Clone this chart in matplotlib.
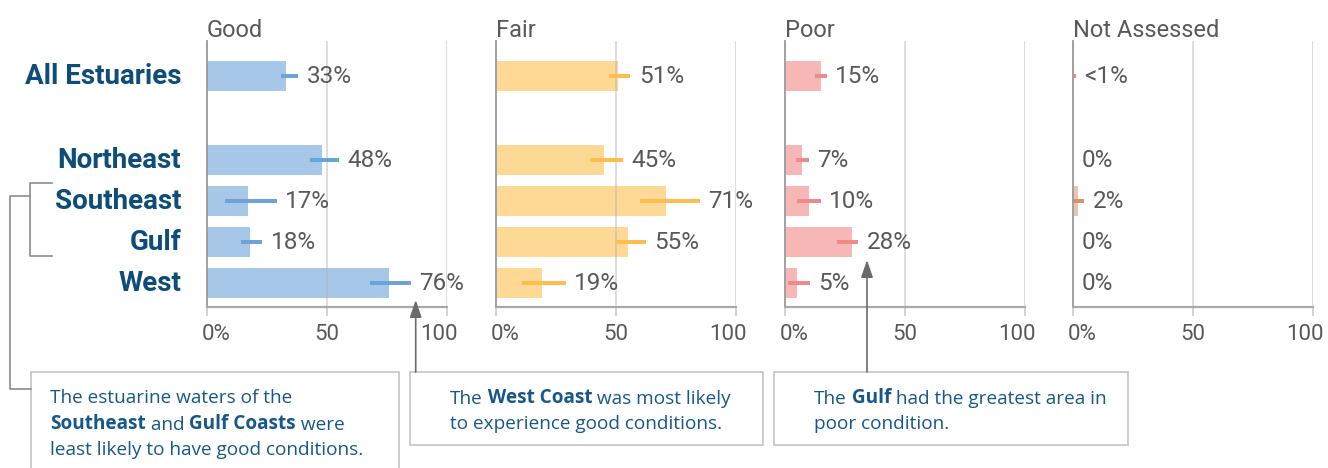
import matplotlib
matplotlib.use("Agg")
import matplotlib.pyplot as plt
from matplotlib import font_manager
from matplotlib.patches import Rectangle, FancyArrowPatch

# --- data -------------------------------------------------------------
regions = ["All Estuaries", "Northeast", "Southeast", "Gulf", "West"]
panels = ["Good", "Fair", "Poor", "Not Assessed"]

good = [33, 48, 17, 18, 76]
good_lo = [31, 43, 7.5, 14, 68]
good_hi = [38, 55, 29, 23, 85]
good_lbl = ["33%", "48%", "17%", "18%", "76%"]

fair = [51, 45, 71, 55, 19]
fair_lo = [47, 39, 60, 50, 11]
fair_hi = [56, 53, 85, 62.5, 29]
fair_lbl = ["51%", "45%", "71%", "55%", "19%"]

poor = [15, 7, 10, 28, 5]
poor_lo = [12.3, 4.5, 4.8, 21.5, 1.2]
poor_hi = [17.4, 10, 14.9, 30.6, 10.3]
poor_lbl = ["15%", "7%", "10%", "28%", "5%"]

na = [0.6, 0, 2, 0, 0]
na_lo = [0, 0, 0.4, 0, 0]
na_hi = [1.3, 0, 4.7, 0, 0]
na_lbl = ["<1%", "0%", "2%", "0%", "0%"]

xticks = [0, 50, 100]
xtick_lbl = ["0%", "50", "100"]

# --- style ------------------------------------------------------------
names = {f.name for f in font_manager.fontManager.ttflist}
narrow = "Liberation Sans Narrow" if "Liberation Sans Narrow" in names else "Roboto"
body = "Open Sans"

bar_colors = ["#a6c7e8", "#fdd995", "#f7b7b7", "#ebc4b1"]
err_colors = ["#6ea3d8", "#fbbe4f", "#f08a8a", "#d8926f"]
grey_txt = "#595959"
navy = "#0e4d7a"
box_txt = "#17578a"

W, H = 1328, 468
fig = plt.figure(figsize=(W / 100, H / 100), dpi=100)

ypos = [0, 2.05, 3.05, 4.05, 5.05]
ax_top, ax_bot = 41, 307
lefts = [207, 496, 785, 1073]

series = [
    (good, good_lo, good_hi, good_lbl),
    (fair, fair_lo, fair_hi, fair_lbl),
    (poor, poor_lo, poor_hi, poor_lbl),
    (na, na_lo, na_hi, na_lbl),
]

for i, (vals, lo, hi, lbl) in enumerate(series):
    ax = fig.add_axes([lefts[i] / W, 1 - ax_bot / H, 240 / W, (ax_bot - ax_top) / H])
    ax.set_xlim(0, 100)
    ax.set_ylim(5.634, -0.854)
    ax.barh(ypos, vals, height=0.75, color=bar_colors[i], zorder=1)
    for x in (50, 100):
        ax.axvline(x, color="#b0b0b0", alpha=0.45, lw=1.3, zorder=2)
    for y, a, b in zip(ypos, lo, hi):
        if b > a:
            ax.plot([a, b], [y, y], color=err_colors[i], lw=2.9,
                    solid_capstyle="butt", zorder=3)
    for y, v, b, s in zip(ypos, vals, hi, lbl):
        ax.annotate(s, (max(v, b), y), xytext=(6, 0), textcoords="offset points",
                    ha="left", va="center", fontsize=17.5, color=grey_txt,
                    family=[narrow, "DejaVu Sans"])
    for sp in ("top", "right"):
        ax.spines[sp].set_visible(False)
    ax.spines["left"].set_color("#9a9a9a")
    ax.spines["left"].set_linewidth(1.3)
    ax.spines["bottom"].set_color("#a8a8a8")
    ax.spines["bottom"].set_linewidth(1.6)
    ax.set_yticks([])
    ax.set_xticks(xticks)
    ax.set_xticklabels([])
    ax.tick_params(axis="x", length=6.5, width=1.3, color="#d0d0d0")
    for x, s in zip([4, 50, 96.5], xtick_lbl):
        ax.text(x, -0.105, s, transform=ax.get_xaxis_transform(), ha="center",
                va="center", fontsize=16, color=grey_txt, family=[narrow, "DejaVu Sans"])
    ax.text(0, 1.015, panels[i], transform=ax.transAxes, ha="left", va="baseline",
            fontsize=17, color=grey_txt, family=[narrow, "DejaVu Sans"])
    if i == 0:
        for y, r in zip(ypos, regions):
            ax.text(-0.108, y, r, transform=ax.get_yaxis_transform(), ha="right",
                    va="center", fontsize=20, fontweight="bold", color=navy,
                    family=[narrow, "DejaVu Sans"])

# --- overlay in pixel coordinates ---------------------------------------
ov = fig.add_axes([0, 0, 1, 1])
ov.set_xlim(0, W)
ov.set_ylim(H, 0)
ov.axis("off")

line_c = "#8c8c8c"
ov.plot([52, 30, 30, 52], [183, 183, 256, 256], color=line_c, lw=1.2)
ov.plot([30, 10, 10, 31], [196, 196, 389, 389], color=line_c, lw=1.2)

for x0, y0, x1, y1 in [(31, 372, 399, 480), (410, 372, 763, 445), (774, 372, 1128, 445)]:
    ov.add_patch(Rectangle((x0, y0), x1 - x0, y1 - y0, facecolor="white",
                           edgecolor="#c4c4c4", lw=1.2, clip_on=False))

for x, y0, y1 in [(415.7, 372, 300), (867, 372, 260)]:
    ov.add_patch(FancyArrowPatch((x, y0), (x, y1), arrowstyle="-|>,head_length=7,head_width=2.4",
                                 color="#6b6b6b", lw=1.2, shrinkA=0, shrinkB=0,
                                 mutation_scale=1.5))


def rich_line(x, y, parts, size=13.7):
    t = None
    for s, bold in parts:
        kw = dict(fontsize=size, color=box_txt, family=[body, "DejaVu Sans"],
                  fontweight="bold" if bold else "normal")
        if t is None:
            t = ov.text(x, y, s, ha="left", va="baseline", **kw)
        else:
            t = ov.annotate(s, xy=(1, 0), xycoords=t, ha="left", va="bottom", **kw)


rich_line(50, 403, [("The estuarine waters of the", False)])
rich_line(50, 429, [("Southeast", True), (" and", False), (" Gulf Coasts", True), (" were", False)])
rich_line(50, 455, [("least likely to have good conditions.", False)])

rich_line(450, 404, [("The", False), (" West Coast", True), (" was most likely", False)])
rich_line(450, 429, [("to experience good conditions.", False)])

rich_line(814, 404, [("The", False), (" Gulf", True), (" had the greatest area in", False)])
rich_line(814, 429, [("poor condition.", False)])

fig.savefig("out.png", dpi=100)
